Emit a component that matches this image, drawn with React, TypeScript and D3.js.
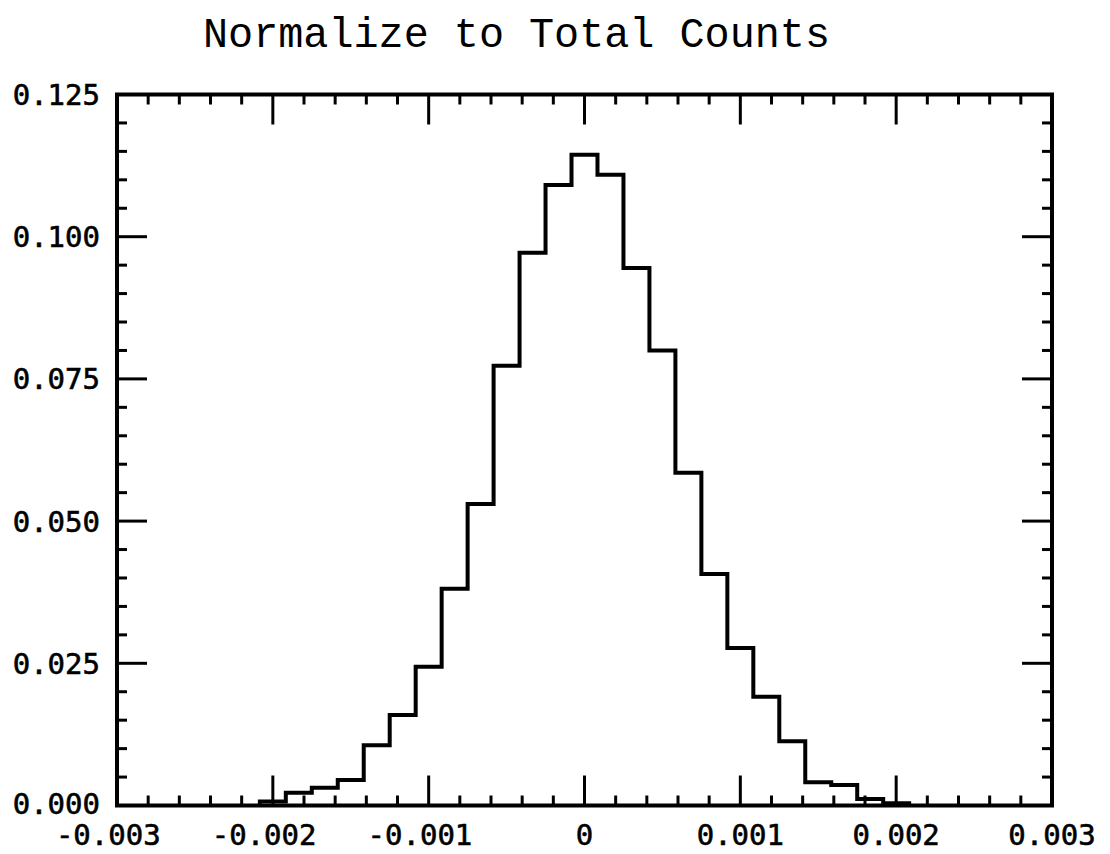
import React from "react";
import * as d3 from "d3";

const title = "Normalize to Total Counts";
const xTickValues = [-0.003, -0.002, -0.001, 0, 0.001, 0.002, 0.003];
const xTickLabels = ["-0.003", "-0.002", "-0.001", "0", "0.001", "0.002", "0.003"];
const yTickValues = [0, 0.025, 0.05, 0.075, 0.1, 0.125];
const yTickLabels = ["0.000", "0.025", "0.050", "0.075", "0.100", "0.125"];
const binWidth = 1 / 6000;
const firstBinCenterIndex = -12;
const binValues = [
  0.0007, 0.00225, 0.0031, 0.0045, 0.0106, 0.0159, 0.0244, 0.0381, 0.053,
  0.0773, 0.0972, 0.1091, 0.1144, 0.1109, 0.0945, 0.08, 0.0585, 0.0407,
  0.0277, 0.0191, 0.0113, 0.0041, 0.0036, 0.00114, 0.0004,
];

const W = 1110;
const H = 854;
const left = 117, right = 1052, top = 94.5, bottom = 805.5;

export default function App() {
  const x = d3.scaleLinear().domain([-0.003, 0.003]).range([left, right]);
  const y = d3.scaleLinear().domain([0, 0.125]).range([bottom, top]);

  const pts: [number, number][] = [];
  const start = (firstBinCenterIndex - 0.5) * binWidth;
  pts.push([start, 0]);
  binValues.forEach((v, i) => pts.push([start + i * binWidth, v]));
  pts.push([start + binValues.length * binWidth, 0]);
  const line = d3
    .line<[number, number]>()
    .x((d) => x(d[0]))
    .y((d) => y(d[1]))
    .curve(d3.curveStepAfter);

  const xMinor = d3.range(-0.003, 0.00301, 0.0002).filter(
    (v) => Math.abs(Math.round(v * 1000) - v * 1000) > 1e-6
  );
  const yMinor = d3.range(0, 0.12501, 0.005).filter(
    (v) => Math.abs(Math.round(v * 40) - v * 40) > 1e-6
  );
  const MAJ = 30, MIN = 10;
  const font = "'DejaVu Sans Mono', monospace";
  const FS = 29;
  const charW = FS * 0.602;

  return (
    <svg width={W} height={H} style={{ position: "absolute", left: 0, top: 0, background: "#fff" }}>
      <rect x={0} y={0} width={W} height={H} fill="#fff" />
      <text
        x={516.5}
        y={47}
        textAnchor="middle"
        fontFamily="'Liberation Mono', monospace"
        fontSize={42}
        textLength={627}
        lengthAdjust="spacingAndGlyphs"
        fill="#000"
      >
        {title}
      </text>
      {/* ticks */}
      <g stroke="#000" strokeWidth={3}>
        {xTickValues.map((v) => (
          <g key={"xm" + v}>
            <line x1={x(v)} x2={x(v)} y1={bottom} y2={bottom - MAJ} />
            <line x1={x(v)} x2={x(v)} y1={top} y2={top + MAJ} />
          </g>
        ))}
        {xMinor.map((v) => (
          <g key={"xn" + v}>
            <line x1={x(v)} x2={x(v)} y1={bottom} y2={bottom - MIN} />
            <line x1={x(v)} x2={x(v)} y1={top} y2={top + MIN} />
          </g>
        ))}
        {yTickValues.map((v) => (
          <g key={"ym" + v}>
            <line x1={left} x2={left + MAJ} y1={y(v)} y2={y(v)} />
            <line x1={right} x2={right - MAJ} y1={y(v)} y2={y(v)} />
          </g>
        ))}
        {yMinor.map((v) => (
          <g key={"yn" + v}>
            <line x1={left} x2={left + MIN} y1={y(v)} y2={y(v)} />
            <line x1={right} x2={right - MIN} y1={y(v)} y2={y(v)} />
          </g>
        ))}
      </g>
      <rect
        x={left}
        y={top}
        width={right - left}
        height={bottom - top}
        fill="none"
        stroke="#000"
        strokeWidth={4}
      />
      <path d={line(pts) || ""} fill="none" stroke="#000" strokeWidth={4} strokeLinejoin="miter" />
      {yTickValues.map((v, i) => (
        <text
          key={"yl" + v}
          x={100}
          y={y(v) - (v === 0 ? 2 : 0)}
          dy="0.36em"
          textAnchor="end"
          fontFamily={font}
          fontSize={FS}
          stroke="#000"
          strokeWidth={0.6}
          fill="#000"
        >
          {yTickLabels[i]}
        </text>
      ))}
      {xTickValues.map((v, i) => {
        const lab = xTickLabels[i];
        const shift = lab.startsWith("-") ? -charW / 2 : 0;
        return (
          <text
            key={"xl" + v}
            x={x(v) + shift}
            y={835}
            dy="0.36em"
            textAnchor="middle"
            fontFamily={font}
            fontSize={FS}
            stroke="#000"
            strokeWidth={0.6}
            fill="#000"
          >
            {lab}
          </text>
        );
      })}
    </svg>
  );
}
